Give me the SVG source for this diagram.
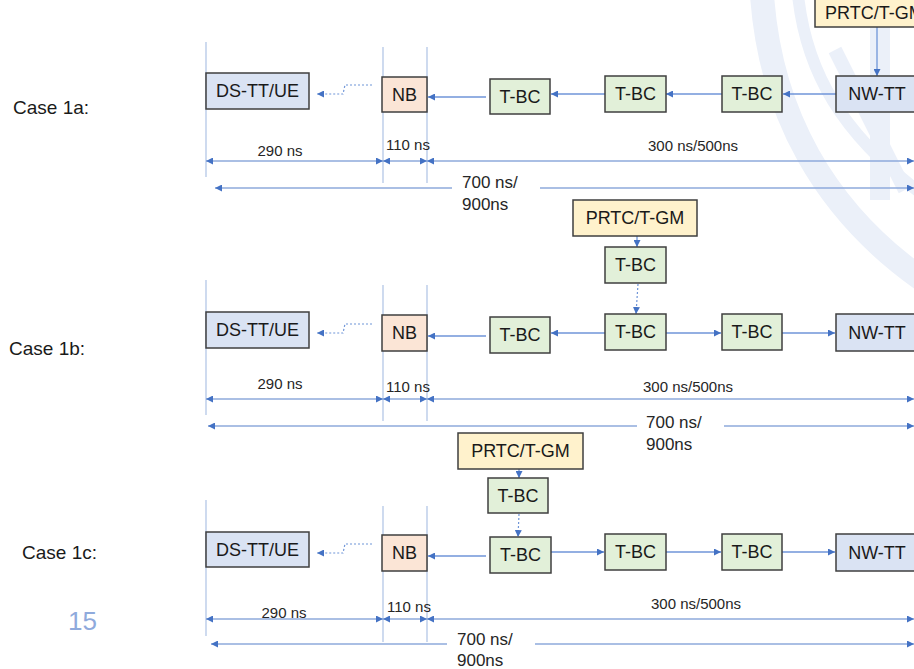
<svg xmlns="http://www.w3.org/2000/svg" width="914" height="669" viewBox="0 0 914 669">
<style>
.box{stroke:#3f3f3f;stroke-width:1.5}
.ue{fill:#dae3f3}.nb{fill:#fbe5d6}.bc{fill:#e2f0d9}.gm{fill:#fff2cc}
.bt{font-family:"Liberation Sans",Arial,sans-serif;font-size:18px;fill:#1a1a1a;text-anchor:middle}
.lbl{font-family:"Liberation Sans",Arial,sans-serif;font-size:19px;fill:#1a1a1a}
.dim{font-family:"Liberation Sans",Arial,sans-serif;font-size:15px;fill:#262626}
.tot{font-family:"Liberation Sans",Arial,sans-serif;font-size:17px;fill:#262626}
.vl{stroke:#b4c7e7;stroke-width:1.3;fill:none}
.ln{stroke:#6f95d8;stroke-width:1.3;fill:none}
.dl{stroke:#8eaadb;stroke-width:1.3;fill:none}
.dot{stroke:#6f95d8;stroke-width:1.2;fill:none;stroke-dasharray:2,2}
.wm{stroke:#ebf0f9;fill:none}
</style>
<defs>
<marker id="ah" viewBox="0 0 10 10" refX="10" refY="5" markerWidth="7" markerHeight="7" orient="auto-start-reverse" markerUnits="userSpaceOnUse">
<path d="M0,0 L10,5 L0,10 z" fill="#4472c4"/>
</marker>
</defs>
<rect width="914" height="669" fill="#ffffff"/>
<g id="watermark">
<path class="wm" stroke-width="24" d="M762 -5 C770 110 822 212 930 285"/>
<path class="wm" stroke-width="12" d="M798 -5 C806 70 840 135 930 200"/>
<path class="wm" stroke-width="14" d="M835 50 L905 190"/>
<path class="wm" stroke-width="20" d="M880 20 V200"/>
</g>
<g id="labels">
<text class="lbl" x="13" y="114">Case 1a:</text>
<text class="lbl" x="9" y="355">Case 1b:</text>
<text class="lbl" x="22" y="559">Case 1c:</text>
<text x="68" y="630" font-family="'Liberation Sans',Arial,sans-serif" font-size="26" fill="#8faadc">15</text>
</g>
<g id="guides">
<line class="vl" x1="206" y1="42" x2="206" y2="177"/>
<line class="vl" x1="383" y1="47" x2="383" y2="183"/>
<line class="vl" x1="427" y1="47" x2="427" y2="183"/>
<line class="vl" x1="206" y1="280" x2="206" y2="415"/>
<line class="vl" x1="383" y1="285" x2="383" y2="421"/>
<line class="vl" x1="427" y1="285" x2="427" y2="421"/>
<line class="vl" x1="206" y1="500" x2="206" y2="636"/>
<line class="vl" x1="383" y1="506" x2="383" y2="642"/>
<line class="vl" x1="427" y1="506" x2="427" y2="642"/>
</g>
<g id="connectors">
<line class="ln" x1="877" y1="27" x2="877" y2="76" marker-end="url(#ah)"/>
<line class="ln" x1="836" y1="94" x2="783" y2="94" marker-end="url(#ah)"/>
<line class="ln" x1="722" y1="94" x2="666" y2="94" marker-end="url(#ah)"/>
<line class="ln" x1="605" y1="94" x2="551" y2="94" marker-end="url(#ah)"/>
<line class="ln" x1="486" y1="97" x2="428" y2="97" marker-end="url(#ah)"/>
<path class="dot" d="M372 85 H345 L343 94 H317" marker-end="url(#ah)"/>
<line class="ln" x1="637" y1="236" x2="637" y2="247" marker-end="url(#ah)"/>
<line class="dot" x1="638" y1="284" x2="636" y2="314" marker-end="url(#ah)"/>
<line class="ln" x1="605" y1="333" x2="551" y2="333" marker-end="url(#ah)"/>
<line class="ln" x1="666" y1="333" x2="721" y2="333" marker-end="url(#ah)"/>
<line class="ln" x1="782" y1="333" x2="835" y2="333" marker-end="url(#ah)"/>
<line class="ln" x1="486" y1="336" x2="428" y2="336" marker-end="url(#ah)"/>
<path class="dot" d="M372 324 H345 L343 333 H317" marker-end="url(#ah)"/>
<line class="ln" x1="519" y1="469" x2="519" y2="478" marker-end="url(#ah)"/>
<line class="dot" x1="519" y1="514" x2="518" y2="537" marker-end="url(#ah)"/>
<line class="ln" x1="551" y1="552" x2="604" y2="552" marker-end="url(#ah)"/>
<line class="ln" x1="666" y1="552" x2="721" y2="552" marker-end="url(#ah)"/>
<line class="ln" x1="782" y1="552" x2="835" y2="552" marker-end="url(#ah)"/>
<line class="ln" x1="486" y1="556" x2="428" y2="556" marker-end="url(#ah)"/>
<path class="dot" d="M372 544 H345 L343 553 H317" marker-end="url(#ah)"/>
</g>
<g id="dimensions">
<line class="dl" x1="206" y1="161" x2="383" y2="161" marker-start="url(#ah)" marker-end="url(#ah)"/>
<line class="dl" x1="383" y1="161" x2="427" y2="161" marker-start="url(#ah)" marker-end="url(#ah)"/>
<line class="dl" x1="427" y1="161" x2="914" y2="161" marker-start="url(#ah)" marker-end="url(#ah)"/>
<line class="dl" x1="215" y1="188" x2="452" y2="188" marker-start="url(#ah)"/>
<line class="dl" x1="540" y1="188" x2="914" y2="188" marker-end="url(#ah)"/>
<text class="dim" x="280" y="156" text-anchor="middle">290 ns</text>
<text class="dim" x="408" y="150" text-anchor="middle">110 ns</text>
<text class="dim" x="693" y="151" text-anchor="middle">300 ns/500ns</text>
<text class="tot" x="462" y="188">700 ns/</text>
<text class="tot" x="462" y="210">900ns</text>
<line class="dl" x1="206" y1="399" x2="383" y2="399" marker-start="url(#ah)" marker-end="url(#ah)"/>
<line class="dl" x1="383" y1="399" x2="427" y2="399" marker-start="url(#ah)" marker-end="url(#ah)"/>
<line class="dl" x1="427" y1="399" x2="914" y2="399" marker-start="url(#ah)" marker-end="url(#ah)"/>
<line class="dl" x1="208" y1="426" x2="637" y2="426" marker-start="url(#ah)"/>
<line class="dl" x1="724" y1="426" x2="914" y2="426" marker-end="url(#ah)"/>
<text class="dim" x="280" y="389" text-anchor="middle">290 ns</text>
<text class="dim" x="408" y="392" text-anchor="middle">110 ns</text>
<text class="dim" x="688" y="392" text-anchor="middle">300 ns/500ns</text>
<text class="tot" x="646" y="428">700 ns/</text>
<text class="tot" x="646" y="450">900ns</text>
<line class="dl" x1="206" y1="619" x2="383" y2="619" marker-start="url(#ah)" marker-end="url(#ah)"/>
<line class="dl" x1="383" y1="619" x2="427" y2="619" marker-start="url(#ah)" marker-end="url(#ah)"/>
<line class="dl" x1="427" y1="619" x2="914" y2="619" marker-start="url(#ah)" marker-end="url(#ah)"/>
<line class="dl" x1="211" y1="644" x2="447" y2="644" marker-start="url(#ah)"/>
<line class="dl" x1="535" y1="644" x2="914" y2="644" marker-end="url(#ah)"/>
<text class="dim" x="284" y="618" text-anchor="middle">290 ns</text>
<text class="dim" x="409" y="612" text-anchor="middle">110 ns</text>
<text class="dim" x="696" y="609" text-anchor="middle">300 ns/500ns</text>
<text class="tot" x="457" y="645">700 ns/</text>
<text class="tot" x="457" y="666">900ns</text>
</g>
<g id="gm1a"><rect class="box gm" x="815" y="-2" width="110" height="29"/><text class="bt" x="825" y="19" style="text-anchor:start">PRTC/T-GM</text></g>
<g id="ue1a"><rect class="box ue" x="206" y="73" width="103" height="36"/><text class="bt" x="257.5" y="97">DS-TT/UE</text></g>
<g id="nb1a"><rect class="box nb" x="382" y="77" width="45" height="35"/><text class="bt" x="404.5" y="101">NB</text></g>
<g id="bc1a1"><rect class="box bc" x="490" y="79" width="60" height="35"/><text class="bt" x="520" y="103">T-BC</text></g>
<g id="bc1a2"><rect class="box bc" x="605" y="76" width="61" height="36"/><text class="bt" x="635.5" y="100">T-BC</text></g>
<g id="bc1a3"><rect class="box bc" x="722" y="76" width="60" height="36"/><text class="bt" x="752" y="100">T-BC</text></g>
<g id="nw1a"><rect class="box ue" x="836" y="76" width="90" height="36"/><text class="bt" x="877" y="100">NW-TT</text></g>
<g id="gm1b"><rect class="box gm" x="573" y="200" width="124" height="36"/><text class="bt" x="635" y="224">PRTC/T-GM</text></g>
<g id="bc1b0"><rect class="box bc" x="605" y="247" width="61" height="36"/><text class="bt" x="635.5" y="271">T-BC</text></g>
<g id="ue1b"><rect class="box ue" x="206" y="312" width="103" height="36"/><text class="bt" x="257.5" y="336">DS-TT/UE</text></g>
<g id="nb1b"><rect class="box nb" x="382" y="315" width="45" height="36"/><text class="bt" x="404.5" y="339">NB</text></g>
<g id="bc1b1"><rect class="box bc" x="490" y="317" width="60" height="36"/><text class="bt" x="520" y="341">T-BC</text></g>
<g id="bc1b2"><rect class="box bc" x="605" y="314" width="61" height="36"/><text class="bt" x="635.5" y="338">T-BC</text></g>
<g id="bc1b3"><rect class="box bc" x="722" y="314" width="60" height="36"/><text class="bt" x="752" y="338">T-BC</text></g>
<g id="nw1b"><rect class="box ue" x="836" y="314" width="90" height="37"/><text class="bt" x="877" y="339">NW-TT</text></g>
<g id="gm1c"><rect class="box gm" x="458" y="433" width="125" height="36"/><text class="bt" x="520.5" y="457">PRTC/T-GM</text></g>
<g id="bc1c0"><rect class="box bc" x="488" y="478" width="60" height="35"/><text class="bt" x="518" y="502">T-BC</text></g>
<g id="ue1c"><rect class="box ue" x="206" y="532" width="103" height="35"/><text class="bt" x="257.5" y="556">DS-TT/UE</text></g>
<g id="nb1c"><rect class="box nb" x="382" y="535" width="45" height="36"/><text class="bt" x="404.5" y="559">NB</text></g>
<g id="bc1c1"><rect class="box bc" x="490" y="537" width="61" height="36"/><text class="bt" x="520.5" y="561">T-BC</text></g>
<g id="bc1c2"><rect class="box bc" x="605" y="534" width="61" height="36"/><text class="bt" x="635.5" y="558">T-BC</text></g>
<g id="bc1c3"><rect class="box bc" x="722" y="534" width="60" height="36"/><text class="bt" x="752" y="558">T-BC</text></g>
<g id="nw1c"><rect class="box ue" x="836" y="534" width="90" height="37"/><text class="bt" x="877" y="559">NW-TT</text></g>
</svg>
